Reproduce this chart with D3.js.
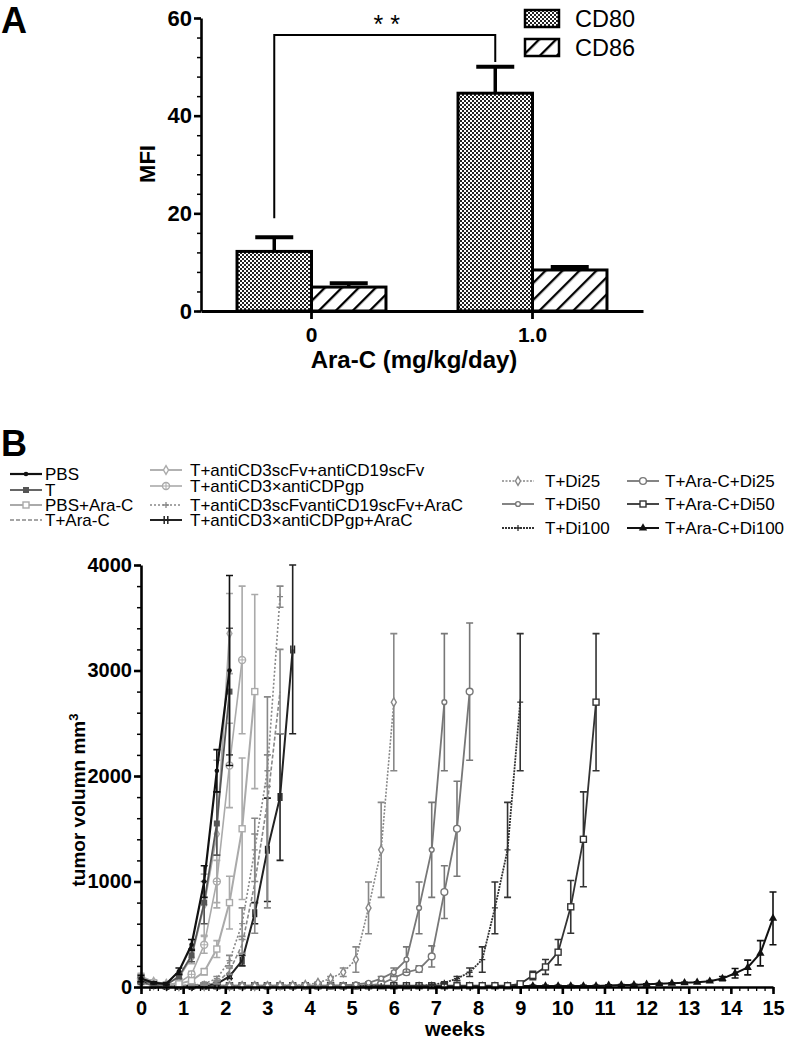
<!DOCTYPE html>
<html>
<head>
<meta charset="utf-8">
<script src="https://cdn.jsdelivr.net/npm/d3@7"></script>
<style>
  body { margin: 0; background: #fff; }
  svg text { font-family: Arial, "Liberation Sans", sans-serif; fill: #000; }
</style>
</head>
<body>
<svg id="chart" width="796" height="1043"></svg>
<script>
// ---------- panel A data ----------
const doses = ["0", "1.0"];
const markerNames = ["CD80", "CD86"];
const cd80 = [12.2, 44.6];
const cd80Err = [2.9, 5.4];
const cd86 = [4.9, 8.4];
const cd86Err = [0.8, 0.6];
const mfiTicks = [0, 20, 40, 60];

// ---------- panel B data ----------
const weeks = [0, 0.3, 0.6, 0.9, 1.2, 1.5, 1.8, 2.1, 2.4, 2.7,
  3, 3.3, 3.6, 3.9, 4.2, 4.5, 4.8, 5.1, 5.4, 5.7,
  6, 6.3, 6.6, 6.9, 7.2, 7.5, 7.8, 8.1, 8.4, 8.7,
  9, 9.3, 9.6, 9.9, 10.2, 10.5, 10.8, 11.1, 11.4, 11.7,
  12, 12.3, 12.6, 12.9, 13.2, 13.5, 13.8, 14.1, 14.4, 14.7, 15];
const weekTicks = [0, 1, 2, 3, 4, 5, 6, 7, 8, 9, 10, 11, 12, 13, 14, 15];
const volTicks = [0, 1000, 2000, 3000, 4000];

const groups = ["PBS", "T", "PBS+Ara-C", "T+Ara-C",
  "T+antiCD3scFv+antiCD19scFv", "T+antiCD3\u00d7antiCDPgp",
  "T+antiCD3scFvantiCD19scFv+AraC", "T+antiCD3\u00d7antiCDPgp+AraC",
  "T+Di25", "T+Di50", "T+Di100",
  "T+Ara-C+Di25", "T+Ara-C+Di50", "T+Ara-C+Di100"];

const pbsMean = [80, 40, 30, 150, 400, 1000, 2050, 3000];
const pbsSem = [30, 10, 10, 30, 50, 150, 200, 900];
const tMean = [70, 30, 20, 100, 300, 800, 1550, 2800];
const tSem = [20, 10, 10, 20, 60, 200, 300, 600];
const pbsAraMean = [90, 40, 20, 30, 60, 145, 360, 800, 1500, 2800];
const pbsAraSem = [30, 10, 5, 10, 15, 30, 80, 250, 670, 920];
const tAraMean = [60, 20, 10, 10, 15, 20, 40, 150, 400, 980, 1750, 2800];
const tAraSem = [20, 5, 5, 5, 5, 5, 10, 30, 80, 470, 1000, 400];
const scfvMean = [100, 50, 30, 90, 280, 780, 1450, 3350];
const scfvSem = [30, 10, 10, 20, 60, 290, 700, 380];
const pgpMean = [80, 40, 20, 40, 120, 400, 1000, 2100, 3100];
const pgpSem = [20, 10, 5, 10, 30, 80, 200, 400, 700];
const scfvAraMean = [70, 30, 15, 10, 15, 30, 80, 250, 600, 1300, 2050, 3700];
const scfvAraSem = [20, 10, 5, 5, 5, 10, 20, 50, 150, 300, 150, 100];
const pgpAraMean = [60, 20, 10, 10, 10, 15, 30, 100, 250, 700, 1300, 1800, 3200];
const pgpAraSem = [20, 5, 5, 5, 5, 5, 10, 20, 50, 100, 490, 600, 800];

const di25Mean = [50, 20, 10, 10, 10, 10, 10, 10, 10, 10,
  10, 15, 15, 20, 40, 80, 140, 260, 750, 1300, 2700];
const di25Sem = [20, 5, 5, 5, 5, 5, 5, 5, 5, 5,
  5, 5, 5, 5, 10, 20, 40, 120, 245, 450, 650];
const di50Mean = [40, 15, 10, 10, 10, 10, 10, 10, 10, 10,
  10, 10, 10, 10, 10, 10, 15, 25, 40, 80,
  140, 260, 750, 1300, 2700];
const di50Sem = [15, 5, 5, 5, 5, 5, 5, 5, 5, 5,
  5, 5, 5, 5, 5, 5, 5, 10, 10, 20,
  40, 120, 245, 450, 650];
const di100Mean = [50, 15, 10, 10, 10, 10, 10, 10, 10, 10,
  10, 10, 10, 10, 10, 10, 10, 10, 10, 10,
  10, 10, 10, 20, 40, 80, 140, 260, 750, 1300, 2700];
const di100Sem = [15, 5, 5, 5, 5, 5, 5, 5, 5, 5,
  5, 5, 5, 5, 5, 5, 5, 5, 5, 5,
  5, 5, 5, 5, 10, 20, 40, 120, 245, 450, 650];
const araDi25Mean = [60, 20, 10, 10, 10, 10, 10, 10, 10, 10,
  10, 10, 10, 10, 10, 10, 10, 10, 15, 30,
  85, 140, 170, 290, 900, 1500, 2800];
const araDi25Sem = [20, 5, 5, 5, 5, 5, 5, 5, 5, 5,
  5, 5, 5, 5, 5, 5, 5, 5, 5, 5,
  20, 20, 30, 100, 250, 450, 650];
const araDi50Mean = [70, 25, 12, 12, 12, 12, 12, 12, 12, 12,
  12, 12, 12, 12, 12, 12, 12, 12, 12, 12,
  12, 12, 12, 12, 12, 12, 12, 12, 12, 12,
  30, 110, 190, 330, 760, 1400, 2700];
const araDi50Sem = [20, 5, 5, 5, 5, 5, 5, 5, 5, 5,
  5, 5, 5, 5, 5, 5, 5, 5, 5, 5,
  5, 5, 5, 5, 5, 5, 5, 5, 5, 5,
  10, 40, 70, 120, 250, 450, 650];
const araDi100Mean = [60, 20, 10, 10, 10, 10, 10, 10, 10, 10,
  10, 10, 10, 10, 10, 10, 10, 10, 10, 10,
  10, 10, 10, 10, 10, 10, 10, 10, 10, 10,
  10, 10, 10, 10, 10, 10, 10, 15, 18, 20,
  25, 30, 35, 40, 45, 55, 80, 130, 185, 320, 650];
const araDi100Sem = [20, 5, 5, 5, 5, 5, 5, 5, 5, 5,
  5, 5, 5, 5, 5, 5, 5, 5, 5, 5,
  5, 5, 5, 5, 5, 5, 5, 5, 5, 5,
  5, 5, 5, 5, 5, 5, 5, 5, 5, 5,
  5, 5, 5, 5, 5, 5, 20, 45, 70, 120, 250];

const means = [pbsMean, tMean, pbsAraMean, tAraMean, scfvMean, pgpMean, scfvAraMean, pgpAraMean,
  di25Mean, di50Mean, di100Mean, araDi25Mean, araDi50Mean, araDi100Mean];
const sems = [pbsSem, tSem, pbsAraSem, tAraSem, scfvSem, pgpSem, scfvAraSem, pgpAraSem,
  di25Sem, di50Sem, di100Sem, araDi25Sem, araDi50Sem, araDi100Sem];

// line look for each group, same order as groups
const styles = [
  {color: "#111", width: 2.2, dash: null, marker: "dot"},
  {color: "#555", width: 1.8, dash: null, marker: "squareFill"},
  {color: "#aaa", width: 2, dash: null, marker: "square"},
  {color: "#888", width: 1.6, dash: "4,2", marker: "none"},
  {color: "#aaa", width: 1.8, dash: null, marker: "diamond"},
  {color: "#aaa", width: 1.6, dash: null, marker: "ocross"},
  {color: "#888", width: 1.6, dash: "2,2", marker: "plus"},
  {color: "#222", width: 2, dash: null, marker: "bar2"},
  {color: "#888", width: 1.6, dash: "2,1.5", marker: "diamond"},
  {color: "#777", width: 1.8, dash: null, marker: "circleSmall"},
  {color: "#333", width: 1.8, dash: "2,1", marker: "plus"},
  {color: "#777", width: 1.8, dash: null, marker: "circle"},
  {color: "#333", width: 1.8, dash: null, marker: "square"},
  {color: "#111", width: 2, dash: null, marker: "triangle"}
];

const svg = d3.select("#chart");
const defs = svg.append("defs");

// fills for panel A
const checker = defs.append("pattern").attr("id", "checker")
  .attr("patternUnits", "userSpaceOnUse").attr("width", 4).attr("height", 4);
checker.append("rect").attr("width", 4).attr("height", 4).attr("fill", "#fff");
checker.append("rect").attr("width", 2).attr("height", 2).attr("fill", "#222");
checker.append("rect").attr("x", 2).attr("y", 2).attr("width", 2).attr("height", 2).attr("fill", "#222");

const hatch = defs.append("pattern").attr("id", "hatch")
  .attr("patternUnits", "userSpaceOnUse").attr("width", 12).attr("height", 12)
  .attr("patternTransform", "rotate(45)");
hatch.append("rect").attr("width", 12).attr("height", 12).attr("fill", "#fff");
hatch.append("line").attr("x1", 1).attr("y1", 0).attr("x2", 1).attr("y2", 12)
  .attr("stroke", "#000").attr("stroke-width", 2.6);

const fills = {CD80: "url(#checker)", CD86: "url(#hatch)"};

function styleAxis(g, size, width) {
  g.select(".domain").attr("stroke", "#000").attr("stroke-width", width);
  g.selectAll(".tick line").attr("stroke", "#000").attr("stroke-width", width);
  g.selectAll(".tick text").attr("font-size", size).attr("font-weight", "bold");
}

// ================= panel A =================
svg.append("text").attr("x", 1).attr("y", 33)
  .attr("font-size", 36).attr("font-weight", "bold").text("A");

const yA = d3.scaleLinear().domain([0, 60]).range([311, 18]);
const xA = d3.scaleBand().domain(doses).range([201, 643])
  .paddingInner(0.326).paddingOuter(0.163);
const xSub = d3.scaleBand().domain(markerNames).range([0, xA.bandwidth()]);

const bars = doses.flatMap((d, i) => [
  {dose: d, key: "CD80", v: cd80[i], e: cd80Err[i]},
  {dose: d, key: "CD86", v: cd86[i], e: cd86Err[i]}
]);

const gA = svg.append("g");
// error bars (upper only, behind bars)
const eb = gA.selectAll(".eb").data(bars).enter().append("g");
eb.append("line")
  .attr("x1", d => xA(d.dose) + xSub(d.key) + xSub.bandwidth() / 2)
  .attr("x2", d => xA(d.dose) + xSub(d.key) + xSub.bandwidth() / 2)
  .attr("y1", d => yA(d.v)).attr("y2", d => yA(d.v + d.e))
  .attr("stroke", "#000").attr("stroke-width", 3.5);
eb.append("line")
  .attr("x1", d => xA(d.dose) + xSub(d.key) + xSub.bandwidth() / 2 - 19)
  .attr("x2", d => xA(d.dose) + xSub(d.key) + xSub.bandwidth() / 2 + 19)
  .attr("y1", d => yA(d.v + d.e)).attr("y2", d => yA(d.v + d.e))
  .attr("stroke", "#000").attr("stroke-width", 4);

gA.selectAll(".bar").data(bars).enter().append("rect")
  .attr("x", d => xA(d.dose) + xSub(d.key))
  .attr("y", d => yA(d.v))
  .attr("width", xSub.bandwidth())
  .attr("height", d => yA(0) - yA(d.v))
  .attr("fill", d => fills[d.key])
  .attr("stroke", "#000").attr("stroke-width", 3);

// axes
const yAxisA = gA.append("g").attr("transform", "translate(201,0)")
  .call(d3.axisLeft(yA).tickValues(mfiTicks).tickSize(7).tickSizeOuter(0).tickPadding(2));
styleAxis(yAxisA, 22, 2.6);
gA.append("g").attr("transform", "translate(201,0)")
  .call(d3.axisLeft(yA).tickValues(d3.range(0, 61, 4)).tickSize(4).tickFormat(""))
  .call(g => g.select(".domain").remove())
  .selectAll("line").attr("stroke", "#000").attr("stroke-width", 1.5);
const xAxisA = gA.append("g").attr("transform", "translate(0,311)")
  .call(d3.axisBottom(xA).tickSize(8).tickSizeOuter(0).tickPadding(8));
styleAxis(xAxisA, 21, 2.8);

gA.append("text").attr("transform", "translate(155,164) rotate(-90)")
  .attr("text-anchor", "middle").attr("font-size", 22).attr("font-weight", "bold").text("MFI");
gA.append("text").attr("x", 414).attr("y", 368)
  .attr("text-anchor", "middle").attr("font-size", 24).attr("font-weight", "bold")
  .text("Ara-C (mg/kg/day)");

// significance bracket between the CD80 bars
const cx80 = d => xA(d) + xSub("CD80") + xSub.bandwidth() / 2;
gA.append("path")
  .attr("d", `M${cx80("0")},${yA(19)}V${yA(56.5)}H${cx80("1.0")}V${yA(51)}`)
  .attr("fill", "none").attr("stroke", "#000").attr("stroke-width", 2);
gA.append("text").attr("x", (cx80("0") + cx80("1.0")) / 2 + 2).attr("y", 33)
  .attr("text-anchor", "middle").attr("font-size", 25).text("*  *");

// legend A
markerNames.forEach((k, i) => {
  gA.append("rect").attr("x", 525).attr("y", 10 + i * 29).attr("width", 34).attr("height", 17)
    .attr("fill", fills[k]).attr("stroke", "#000").attr("stroke-width", 2.5);
  gA.append("text").attr("x", 575).attr("y", 27 + i * 29)
    .attr("font-size", 23.5).text(k);
});

// ================= panel B =================
svg.append("text").attr("x", 1).attr("y", 456)
  .attr("font-size", 36).attr("font-weight", "bold").text("B");

const xB = d3.scaleLinear().domain([0, 15]).range([141, 773]);
const yB = d3.scaleLinear().domain([0, 4000]).range([987, 565]);
const gB = svg.append("g");

function drawMarker(g, type, x, y, color) {
  const sw = 1.4;
  switch (type) {
    case "dot":
      g.append("circle").attr("cx", x).attr("cy", y).attr("r", 2.3).attr("fill", color);
      break;
    case "squareFill":
      g.append("rect").attr("x", x - 3).attr("y", y - 3).attr("width", 6).attr("height", 6)
        .attr("fill", color);
      break;
    case "square":
      g.append("rect").attr("x", x - 3).attr("y", y - 3).attr("width", 6).attr("height", 6)
        .attr("fill", "#fff").attr("stroke", color).attr("stroke-width", sw);
      break;
    case "circle":
      g.append("circle").attr("cx", x).attr("cy", y).attr("r", 3.4)
        .attr("fill", "#fff").attr("stroke", color).attr("stroke-width", sw);
      break;
    case "circleSmall":
      g.append("circle").attr("cx", x).attr("cy", y).attr("r", 2.4)
        .attr("fill", "#fff").attr("stroke", color).attr("stroke-width", sw);
      break;
    case "ocross":
      g.append("circle").attr("cx", x).attr("cy", y).attr("r", 3.5)
        .attr("fill", "#fff").attr("stroke", color).attr("stroke-width", sw);
      g.append("path").attr("d", `M${x - 3.5},${y}H${x + 3.5}M${x},${y - 3.5}V${y + 3.5}`)
        .attr("stroke", color).attr("stroke-width", 1);
      break;
    case "plus":
      g.append("path").attr("d", `M${x - 3},${y}H${x + 3}M${x},${y - 3}V${y + 3}`)
        .attr("stroke", color).attr("stroke-width", 1.3);
      break;
    case "diamond":
      g.append("path").attr("transform", `translate(${x},${y})`)
        .attr("d", d3.symbol(d3.symbolDiamond, 22)())
        .attr("fill", "#fff").attr("stroke", color).attr("stroke-width", sw);
      break;
    case "triangle":
      g.append("path").attr("transform", `translate(${x},${y})`)
        .attr("d", d3.symbol(d3.symbolTriangle, 30)())
        .attr("fill", color);
      break;
    case "bar2":
      g.append("path").attr("d", `M${x - 1.8},${y - 4}V${y + 4}M${x + 1.8},${y - 4}V${y + 4}`)
        .attr("stroke", color).attr("stroke-width", 1.5);
      break;
  }
}

const series = groups.map((name, gi) => ({
  name,
  style: styles[gi],
  points: means[gi].map((v, i) => ({w: weeks[i], v, e: sems[gi][i]}))
}));

const line = d3.line().x(d => xB(d.w)).y(d => yB(d.v));

// later legend entries first so PBS ends up on top
series.slice().reverse().forEach(s => {
  const g = gB.append("g");
  const c = s.style.color;
  g.selectAll(".err").data(s.points).enter().append("path")
    .attr("d", d => {
      const x = xB(d.w), y1 = yB(Math.max(0, d.v - d.e)), y2 = yB(d.v + d.e);
      return `M${x},${y1}V${y2}M${x - 3.5},${y1}H${x + 3.5}M${x - 3.5},${y2}H${x + 3.5}`;
    })
    .attr("fill", "none").attr("stroke", c).attr("stroke-width", 1.6);
  g.append("path").datum(s.points).attr("d", line)
    .attr("fill", "none").attr("stroke", c).attr("stroke-width", s.style.width)
    .attr("stroke-dasharray", s.style.dash);
  s.points.forEach(p => drawMarker(g, s.style.marker, xB(p.w), yB(p.v), c));
});

// axes B
const yAxisB = gB.append("g").attr("transform", "translate(141,0)")
  .call(d3.axisLeft(yB).tickValues(volTicks).tickFormat(d3.format("d"))
    .tickSize(7).tickSizeOuter(0).tickPadding(2));
styleAxis(yAxisB, 20, 2.6);
gB.append("g").attr("transform", "translate(141,0)")
  .call(d3.axisLeft(yB).tickValues(d3.range(0, 4001, 200)).tickSize(4).tickFormat(""))
  .call(g => g.select(".domain").remove())
  .selectAll("line").attr("stroke", "#000").attr("stroke-width", 1.5);
const xAxisB = gB.append("g").attr("transform", "translate(0,987)")
  .call(d3.axisBottom(xB).tickValues(weekTicks).tickSize(7).tickSizeOuter(0).tickPadding(7));
styleAxis(xAxisB, 20, 2.6);
gB.append("g").attr("transform", "translate(0,987)")
  .call(d3.axisBottom(xB).tickValues(d3.range(0, 15.01, 0.2)).tickSize(4).tickFormat(""))
  .call(g => g.select(".domain").remove())
  .selectAll("line").attr("stroke", "#000").attr("stroke-width", 1.3);

const yLab = gB.append("text").attr("transform", "translate(85,800) rotate(-90)")
  .attr("text-anchor", "middle").attr("font-size", 19).attr("font-weight", "bold");
yLab.append("tspan").text("tumor volumn mm");
yLab.append("tspan").attr("dy", -7).attr("font-size", 13).text("3");
gB.append("text").attr("x", 455).attr("y", 1036).attr("text-anchor", "middle")
  .attr("font-size", 20).attr("font-weight", "bold").text("weeks");

// legend B: four columns
const legendCols = [
  {sx: 10, tx: 45, rows: [480, 496, 511, 526]},
  {sx: 150, tx: 190, rows: [476, 492, 511, 526]},
  {sx: 502, tx: 545, rows: [487, 510, 534]},
  {sx: 627, tx: 665, rows: [487, 510, 534]}
];
let gi = 0;
legendCols.forEach(col => {
  col.rows.forEach(by => {
    const s = series[gi++];
    const g = gB.append("g");
    const ly = by - 6;
    g.append("line").attr("x1", col.sx).attr("x2", col.sx + 32).attr("y1", ly).attr("y2", ly)
      .attr("stroke", s.style.color).attr("stroke-width", s.style.width)
      .attr("stroke-dasharray", s.style.dash);
    drawMarker(g, s.style.marker, col.sx + 16, ly, s.style.color);
    g.append("text").attr("x", col.tx).attr("y", by).attr("font-size", 17)
      .attr("fill", "#222").text(s.name);
  });
});
</script>
</body>
</html>
